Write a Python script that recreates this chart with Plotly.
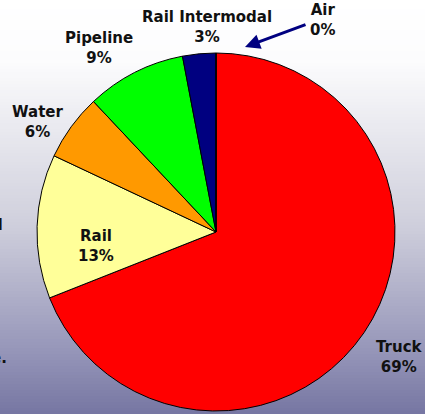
import plotly.graph_objects as go

modes = ["Truck", "Rail", "Water", "Pipeline", "Rail Intermodal", "Air"]
shares = [69, 13, 6, 9, 3, 0]
colors = ["#FF0000", "#FFFF99", "#FF9900", "#00FF00", "#000080", "#FFFFFF"]

W, H = 425, 414

fig = go.Figure()
cx, cy, r = 216, 232, 179
fig.add_trace(go.Pie(
    labels=modes, values=shares, sort=False, direction="clockwise", rotation=0,
    marker=dict(colors=colors, line=dict(color="black", width=1)),
    textinfo="none", hoverinfo="label+percent", showlegend=False,
    domain=dict(x=[(cx - r) / W, (cx + r) / W], y=[(H - cy - r) / H, (H - cy + r) / H]),
))

# gradient background as strips
stops = [(0, (255, 255, 255)), (60, (252, 252, 253)), (225, (207, 207, 220)),
         (350, (150, 150, 185)), (414, (118, 118, 162))]
def col_at(y):
    for (y0, c0), (y1, c1) in zip(stops[:-1], stops[1:]):
        if y0 <= y <= y1:
            t = (y - y0) / (y1 - y0)
            return tuple(round(a + (b - a) * t) for a, b in zip(c0, c1))
    return stops[-1][1]
shapes = []
step = 3
for y in range(0, H, step):
    c = col_at(y + step / 2)
    shapes.append(dict(type="rect", xref="paper", yref="paper", x0=0, x1=1,
                       y0=1 - (y + step + 0.5) / H, y1=1 - y / H,
                       fillcolor="rgb(%d,%d,%d)" % c, line=dict(width=0), layer="below"))

label_pos = [(399, 357), (96, 246), (37, 122), (99, 48), (207, 27), (322, 20)]
font = dict(family="DejaVu Sans", size=15, color="#111111")
ann = []
for m, s, (x, y) in zip(modes, shares, label_pos):
    ann.append(dict(x=x / W, y=1 - y / H, xref="paper", yref="paper",
                    text="<b>%s<br>%d%%</b>" % (m, s), showarrow=False, font=font,
                    xanchor="center", yanchor="middle", align="center"))
# arrow pointing to Air
ann.append(dict(x=245 / W, y=1 - 47 / H, ax=62, ay=-23, xref="paper", yref="paper",
                axref="pixel", ayref="pixel", text="", showarrow=True, arrowhead=2,
                arrowsize=1, arrowwidth=3, arrowcolor="#000080"))
# cropped slide text fragments at the left edge (cut off in the reference too)
ann.append(dict(x=5 / W, y=1 - 225 / H, xref="paper", yref="paper", text="<b>d</b>",
                showarrow=False, font=font, xanchor="right", yanchor="middle"))
ann.append(dict(x=9 / W, y=1 - 358 / H, xref="paper", yref="paper", text="<b>e.</b>",
                showarrow=False, font=font, xanchor="right", yanchor="middle"))

fig.update_layout(width=W, height=H, margin=dict(l=0, r=0, t=0, b=0),
                  paper_bgcolor="white", plot_bgcolor="white",
                  shapes=shapes, annotations=ann)
fig.write_html("out.html", config={"displayModeBar": False},
               post_script="document.body.style.margin='0px';document.body.style.overflow='hidden';")
